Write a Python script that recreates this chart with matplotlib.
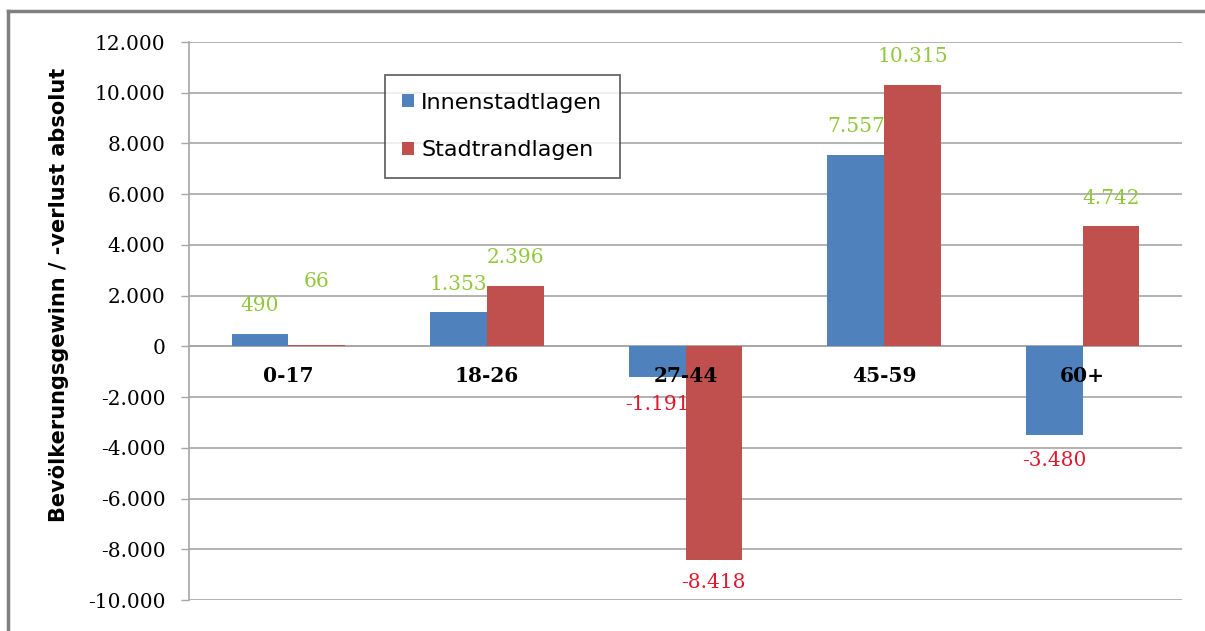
import matplotlib
matplotlib.use("Agg")
import matplotlib.pyplot as plt
from matplotlib.lines import Line2D
import numpy as np

categories = ["0-17", "18-26", "27-44", "45-59", "60+"]
innenstadt = [490, 1353, -1191, 7557, -3480]
stadtrand = [66, 2396, -8418, 10315, 4742]
label_inn = ["490", "1.353", "-1.191", "7.557", "-3.480"]
label_sta = ["66", "2.396", "-8.418", "10.315", "4.742"]
yticks = list(range(-10000, 12001, 2000))
ytick_labels = [f"{v:,}".replace(",", ".") for v in yticks]

BLUE = "#4F81BD"
RED = "#C0504D"
GREEN = "#92C83E"
LRED = "#E3162C"
GRID = "#A6A6A6"

fig = plt.figure(figsize=(12.05, 6.31), dpi=100)
ax = fig.add_axes([189/1205, 1-600/631, (1182-189)/1205, (600-42)/631])

x = np.arange(len(categories))
w = 1/3.5
b1 = ax.bar(x - w/2, innenstadt, w, color=BLUE, label="Innenstadtlagen", zorder=3)
b2 = ax.bar(x + w/2, stadtrand, w, color=RED, label="Stadtrandlagen", zorder=3)

ax.set_xlim(-0.5, len(categories) - 0.5)
ax.set_ylim(-10000, 12000)
ax.set_yticks(yticks)
ax.set_yticklabels(ytick_labels, family="DejaVu Serif", fontsize=14.5)
ax.set_xticks([])
ax.tick_params(axis="y", length=6, width=1, color=GRID, pad=11)
ax.yaxis.grid(True, color=GRID, linewidth=1.2, zorder=0)
for s in ["top", "right", "bottom"]:
    ax.spines[s].set_visible(False)
ax.spines["left"].set_color(GRID)
ax.spines["left"].set_linewidth(1.2)
ax.axhline(0, color=GRID, linewidth=1.2, zorder=2)

ax.text(-0.131, 0.547, "Bevölkerungsgewinn / -verlust absolut", transform=ax.transAxes,
        rotation=90, ha="center", va="center", fontsize=15, fontweight="bold",
        family="DejaVu Sans")

def put_labels(bars, vals, labs, extra):
    for bar, v, lab, ex in zip(bars, vals, labs, extra):
        cx = bar.get_x() + bar.get_width()/2
        if v >= 0:
            ax.annotate(lab, (cx, v), xytext=(0, 28 + ex), textcoords="offset pixels",
                        ha="center", va="center", color=GREEN, family="DejaVu Serif",
                        fontsize=14.5, zorder=5)
        else:
            ax.annotate(lab, (cx, v), xytext=(0, -26 - ex), textcoords="offset pixels",
                        ha="center", va="center", color=LRED, family="DejaVu Serif",
                        fontsize=14.5, zorder=5)

put_labels(b1, innenstadt, label_inn, [0, 0, 2, 0, 0])
put_labels(b2, stadtrand, label_sta, [35, 0, -3, 0, 0])

for i, c in enumerate(categories):
    ax.annotate(c, (i, 0), xytext=(0, -30), textcoords="offset pixels",
                ha="center", va="center", fontsize=14.5, fontweight="bold",
                family="DejaVu Serif", color="black", zorder=6)

leg = ax.legend(loc="upper left", bbox_to_anchor=(0.197, 0.941), borderaxespad=0,
                prop={"family": "DejaVu Sans", "size": 16}, frameon=True, fancybox=False,
                edgecolor="#404040",
                handlelength=0.5, handleheight=0.5, handletextpad=0.35,
                labelspacing=1.25, borderpad=0.8)
leg.get_frame().set_linewidth(1.3)

# outer frame
fig.add_artist(Line2D([8/1205, 8/1205], [0, 1-11/631], transform=fig.transFigure,
                      color="#808080", linewidth=2.5))
fig.add_artist(Line2D([8/1205, 1], [1-11/631, 1-11/631], transform=fig.transFigure,
                      color="#808080", linewidth=2.5))

fig.savefig("out.png", dpi=100)
